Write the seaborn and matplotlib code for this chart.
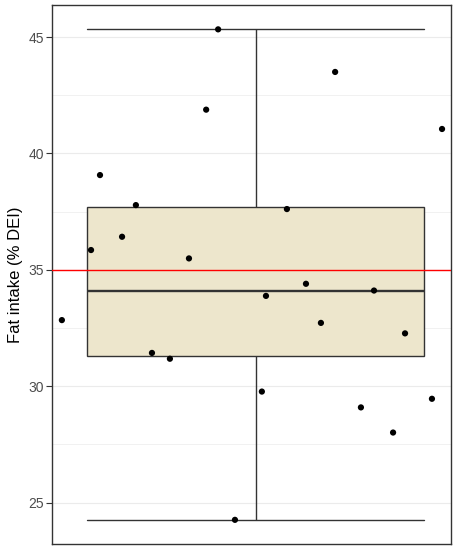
import matplotlib

matplotlib.use("Agg")
import matplotlib.pyplot as plt
from matplotlib.ticker import MultipleLocator
import numpy as np
import pandas as pd
import seaborn as sns

# fat intake per participant (% of daily energy intake)
fat_intake = [32.84, 35.85, 39.07, 36.42, 37.78, 31.43, 31.18, 35.49, 41.88, 45.33,
              24.26, 29.77, 33.88, 37.61, 34.40, 32.72, 43.50, 29.09, 34.11, 28.01,
              32.27, 29.46, 41.05]
# horizontal jitter of each point as drawn in the original
jitter = [-0.518, -0.440, -0.416, -0.357, -0.320, -0.277, -0.229, -0.178, -0.132, -0.100,
          -0.055, 0.017, 0.028, 0.084, 0.135, 0.175, 0.213, 0.282, 0.317, 0.368,
          0.400, 0.472, 0.499]
reference_level = 35
y_ticks = [25, 30, 35, 40, 45]
y_label = "Fat intake (% DEI)"

BOX_FILL = "#EDE6CC"
LINE = "#333333"


def main() -> None:
    sns.set_theme(style="white")
    plt.rcParams["font.family"] = ["Liberation Sans", "DejaVu Sans"]

    df = pd.DataFrame({"fat": fat_intake, "jit": jitter})

    fig = plt.figure(figsize=(4.56, 5.5), dpi=100)
    ax = fig.add_axes([0.1147, 0.0104, 0.8737, 0.9811])

    sns.boxplot(
        data=df, y="fat", ax=ax, width=0.9, whis=(0, 100),
        color=BOX_FILL, linecolor=LINE, linewidth=1.0, saturation=1,
        showfliers=False, medianprops={"linewidth": 1.7},
    )
    # ggplot-style errorbar caps spanning the full box width
    lo, hi = min(fat_intake), max(fat_intake)
    for line in ax.lines:
        yd = np.asarray(line.get_ydata(), dtype=float)
        if len(yd) == 2 and yd[0] == yd[1] and yd[0] in (lo, hi):
            line.set_xdata([-0.45, 0.45])
        line.set_zorder(2.5)

    ax.axhline(reference_level, color="red", lw=1.0, zorder=3)
    sns.scatterplot(data=df, x="jit", y="fat", ax=ax, color="black", s=20,
                    edgecolor="none", zorder=4)

    ax.set_xlim(-0.5436, 0.5222)
    ax.set_ylim(23.21, 46.39)
    ax.set_yticks(y_ticks)
    ax.yaxis.set_minor_locator(MultipleLocator(2.5))
    ax.set_xticks([])
    ax.set_xlabel("")
    ax.set_ylabel(y_label, fontsize=12, color="black", labelpad=4)
    ax.tick_params(axis="y", which="major", length=4, width=0.8, color=LINE,
                   labelsize=10, labelcolor="#4D4D4D", left=True, pad=2)
    ax.tick_params(axis="y", which="minor", length=0)
    ax.grid(True, which="major", axis="y", color="#EBEBEB", lw=0.8, zorder=0)
    ax.grid(True, which="minor", axis="y", color="#EBEBEB", lw=0.5, zorder=0)
    ax.set_axisbelow(True)
    for sp in ax.spines.values():
        sp.set_color(LINE)
        sp.set_linewidth(1.0)
        sp.set_visible(True)

    fig.savefig("out.png", dpi=100)
    plt.close(fig)


if __name__ == "__main__":
    main()
